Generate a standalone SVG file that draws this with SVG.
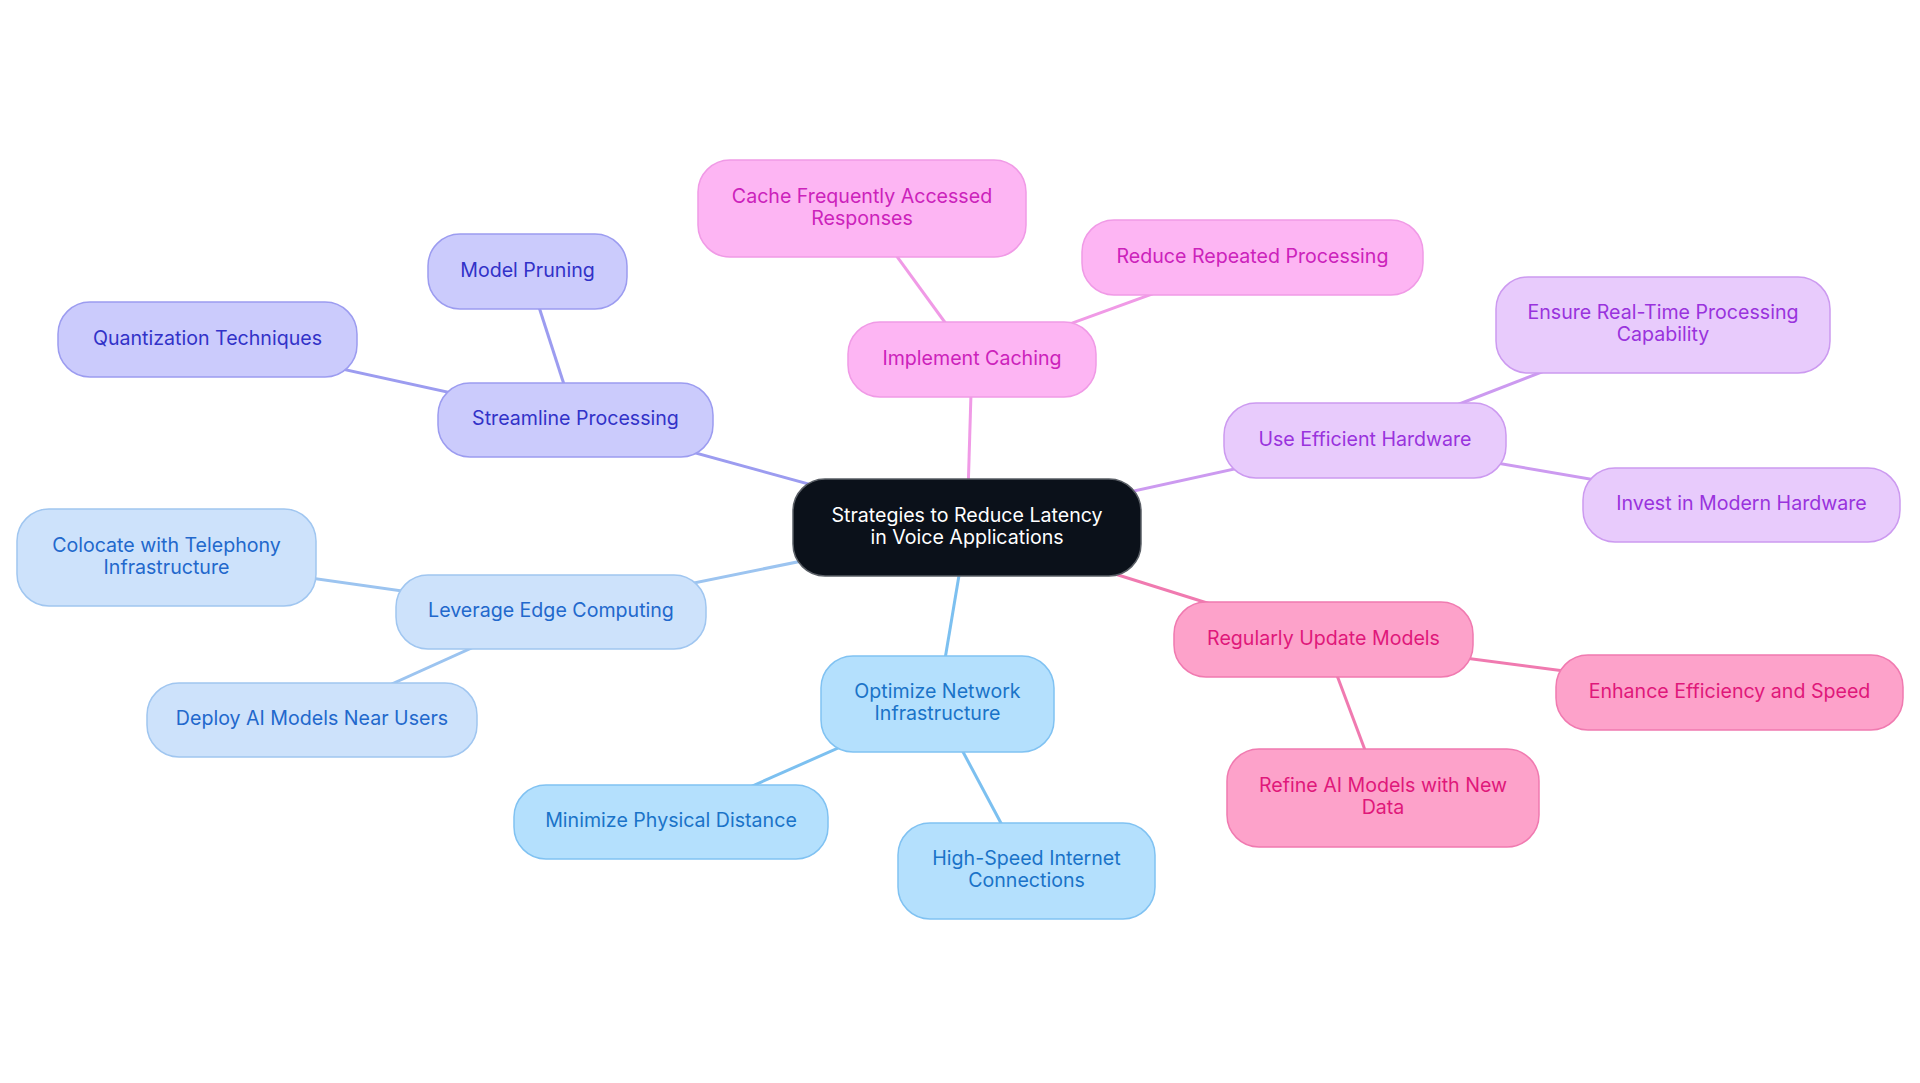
<svg xmlns="http://www.w3.org/2000/svg" width="1920" height="1083" viewBox="0 0 1920 1083">
<style>
  text { font-family: Inter, "Liberation Sans", sans-serif; font-size: 19.6px; text-anchor: middle; }
  .edge { fill: none; stroke-width: 3; }
  .node rect { stroke-width: 1.5; }
  .root rect { fill: #0b111a; stroke: #5a5f66; }
  .root text { fill: #ffffff; }
  .e-sp { stroke: #9c9cf0; }
  .e-ca { stroke: #f09ae6; }
  .e-hw { stroke: #cc9af0; }
  .e-up { stroke: #f07ab0; }
  .e-nw { stroke: #7cc0f0; }
  .e-ed { stroke: #9cc4f0; }
  .sp rect { fill: #cbcbfc; stroke: #9c9cf0; }
  .sp text { fill: #3232c8; }
  .ca rect { fill: #fdb5f3; stroke: #f09ae6; }
  .ca text { fill: #cc22bb; }
  .hw rect { fill: #e8cbfc; stroke: #cc9af0; }
  .hw text { fill: #9933dd; }
  .up rect { fill: #fda2ca; stroke: #f07ab0; }
  .up text { fill: #e0187a; }
  .nw rect { fill: #b4e0fd; stroke: #80c2f2; }
  .nw text { fill: #1a73c8; }
  .ed rect { fill: #cde2fb; stroke: #a0c6f0; }
  .ed text { fill: #2268cc; }
</style>
<rect x="0" y="0" width="1920" height="1083" fill="#ffffff"/>
<g id="connectors">
  <line class="edge e-sp" x1="967" y1="527.5" x2="575.5" y2="420"/>
  <line class="edge e-sp" x1="575.5" y1="420" x2="527.5" y2="271.5"/>
  <line class="edge e-sp" x1="575.5" y1="420" x2="207.5" y2="339.5"/>
  <line class="edge e-ca" x1="967" y1="527.5" x2="972" y2="359.5"/>
  <line class="edge e-ca" x1="972" y1="359.5" x2="862" y2="208.5"/>
  <line class="edge e-ca" x1="972" y1="359.5" x2="1252.5" y2="257.5"/>
  <line class="edge e-hw" x1="967" y1="527.5" x2="1365" y2="440.5"/>
  <line class="edge e-hw" x1="1365" y1="440.5" x2="1663" y2="325"/>
  <line class="edge e-hw" x1="1365" y1="440.5" x2="1741.5" y2="505"/>
  <line class="edge e-up" x1="967" y1="527.5" x2="1323.5" y2="639.5"/>
  <line class="edge e-up" x1="1323.5" y1="639.5" x2="1729.5" y2="692.5"/>
  <line class="edge e-up" x1="1323.5" y1="639.5" x2="1383" y2="798"/>
  <line class="edge e-nw" x1="967" y1="527.5" x2="937.5" y2="704"/>
  <line class="edge e-nw" x1="937.5" y1="704" x2="671" y2="822"/>
  <line class="edge e-nw" x1="937.5" y1="704" x2="1026.5" y2="871"/>
  <line class="edge e-ed" x1="967" y1="527.5" x2="551" y2="612"/>
  <line class="edge e-ed" x1="551" y1="612" x2="166.5" y2="557.5"/>
  <line class="edge e-ed" x1="551" y1="612" x2="312" y2="720"/>
</g>
<g id="root" class="node root">
  <rect x="793" y="479" width="348" height="97" rx="32"/>
  <text x="967" y="521.7">Strategies to Reduce Latency</text>
  <text x="967" y="543.5">in Voice Applications</text>
</g>
<g id="streamline" class="node sp">
  <rect x="438" y="383" width="275" height="74" rx="32"/>
  <text x="575.5" y="425">Streamline Processing</text>
</g>
<g id="pruning" class="node sp">
  <rect x="428" y="234" width="199" height="75" rx="32"/>
  <text x="527.5" y="276.5">Model Pruning</text>
</g>
<g id="quantization" class="node sp">
  <rect x="58" y="302" width="299" height="75" rx="32"/>
  <text x="207.5" y="344.5">Quantization Techniques</text>
</g>
<g id="caching" class="node ca">
  <rect x="848" y="322" width="248" height="75" rx="32"/>
  <text x="972" y="364.5">Implement Caching</text>
</g>
<g id="cachefreq" class="node ca">
  <rect x="698" y="160" width="328" height="97" rx="32"/>
  <text x="862" y="202.7">Cache Frequently Accessed</text>
  <text x="862" y="224.5">Responses</text>
</g>
<g id="reduce" class="node ca">
  <rect x="1082" y="220" width="341" height="75" rx="32"/>
  <text x="1252.5" y="262.5">Reduce Repeated Processing</text>
</g>
<g id="hardware" class="node hw">
  <rect x="1224" y="403" width="282" height="75" rx="32"/>
  <text x="1365" y="445.5">Use Efficient Hardware</text>
</g>
<g id="ensure" class="node hw">
  <rect x="1496" y="277" width="334" height="96" rx="32"/>
  <text x="1663" y="319.2">Ensure Real-Time Processing</text>
  <text x="1663" y="341">Capability</text>
</g>
<g id="invest" class="node hw">
  <rect x="1583" y="468" width="317" height="74" rx="32"/>
  <text x="1741.5" y="510">Invest in Modern Hardware</text>
</g>
<g id="update" class="node up">
  <rect x="1174" y="602" width="299" height="75" rx="32"/>
  <text x="1323.5" y="644.5">Regularly Update Models</text>
</g>
<g id="enhance" class="node up">
  <rect x="1556" y="655" width="347" height="75" rx="32"/>
  <text x="1729.5" y="697.5">Enhance Efficiency and Speed</text>
</g>
<g id="refine" class="node up">
  <rect x="1227" y="749" width="312" height="98" rx="32"/>
  <text x="1383" y="792.3">Refine AI Models with New</text>
  <text x="1383" y="814.3">Data</text>
</g>
<g id="network" class="node nw">
  <rect x="821" y="656" width="233" height="96" rx="32"/>
  <text x="937.5" y="698.2">Optimize Network</text>
  <text x="937.5" y="720">Infrastructure</text>
</g>
<g id="minimize" class="node nw">
  <rect x="514" y="785" width="314" height="74" rx="32"/>
  <text x="671" y="827">Minimize Physical Distance</text>
</g>
<g id="highspeed" class="node nw">
  <rect x="898" y="823" width="257" height="96" rx="32"/>
  <text x="1026.5" y="865.2">High-Speed Internet</text>
  <text x="1026.5" y="887">Connections</text>
</g>
<g id="edge" class="node ed">
  <rect x="396" y="575" width="310" height="74" rx="32"/>
  <text x="551" y="617">Leverage Edge Computing</text>
</g>
<g id="colocate" class="node ed">
  <rect x="17" y="509" width="299" height="97" rx="32"/>
  <text x="166.5" y="551.7">Colocate with Telephony</text>
  <text x="166.5" y="573.5">Infrastructure</text>
</g>
<g id="deploy" class="node ed">
  <rect x="147" y="683" width="330" height="74" rx="32"/>
  <text x="312" y="725">Deploy AI Models Near Users</text>
</g>
</svg>
